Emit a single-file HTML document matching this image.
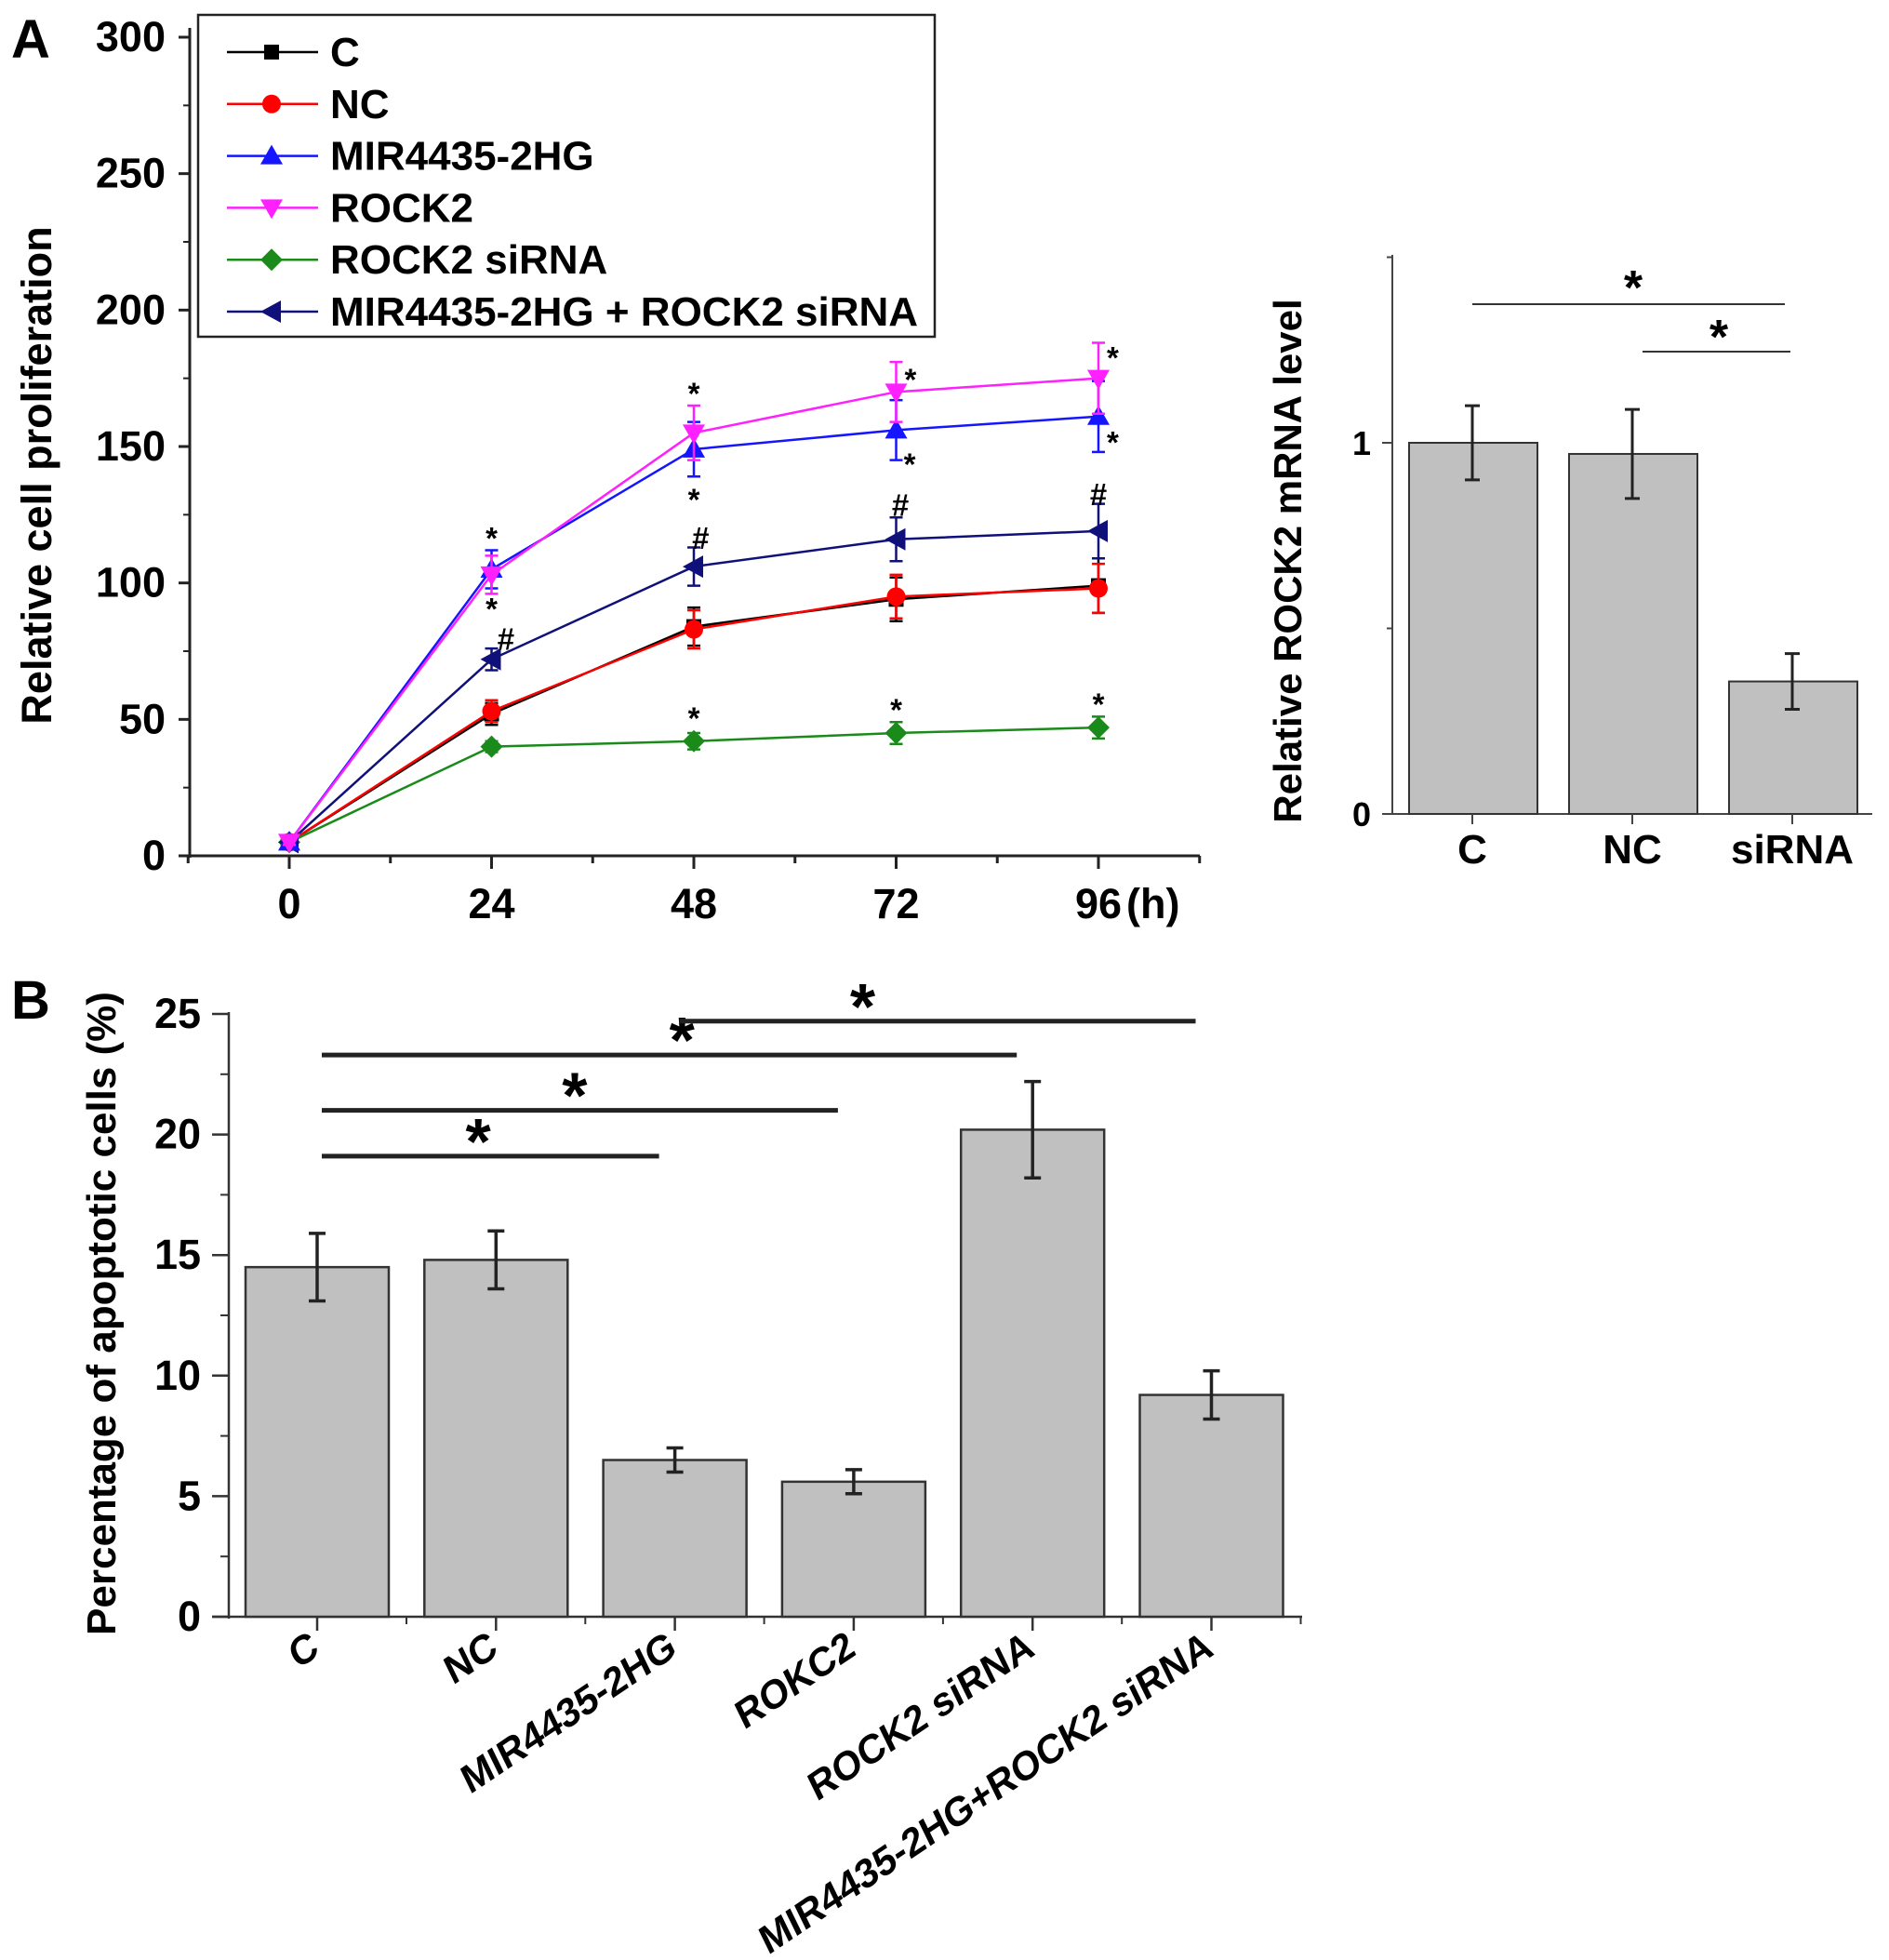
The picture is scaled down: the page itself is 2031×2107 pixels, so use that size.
<!DOCTYPE html>
<html><head><meta charset="utf-8">
<style>
html,body{margin:0;padding:0;background:#fff;}
svg{display:block;font-family:"Liberation Sans",Arial,sans-serif;font-weight:bold;}
</style></head>
<body>
<svg id="fig" width="2031" height="2107" viewBox="0 0 2031 2107" xmlns="http://www.w3.org/2000/svg">
<rect width="2031" height="2107" fill="#fff"/>
<text x="12" y="62" font-size="58" fill="#000">A</text>
<text x="12" y="1095" font-size="58" fill="#000">B</text>
<g id="gA"></g>
<g id="gR"></g>
<g id="gB"></g>
</svg>
<script>
// ---------- Panel A data ----------
const hours = [0, 24, 48, 72, 96];
const seriesNames = ["C", "NC", "MIR4435-2HG", "ROCK2", "ROCK2 siRNA", "MIR4435-2HG + ROCK2 siRNA"];
const valC = [5, 52, 84, 94, 99];
const valNC = [5, 53, 83, 95, 98];
const valMIR = [5, 105, 149, 156, 161];
const valROCK2 = [5, 103, 155, 170, 175];
const valSi = [5, 40, 42, 45, 47];
const valCombo = [5, 72, 106, 116, 119];
const errC = [1, 4, 7, 8, 10];
const errNC = [1, 4, 7, 8, 9];
const errMIR = [1, 7, 10, 11, 13];
const errROCK2 = [1, 7, 10, 11, 13];
const errSi = [1, 2, 3, 4, 4];
const errCombo = [1, 4, 7, 8, 10];
const yTicksA = [0, 50, 100, 150, 200, 250, 300];
const annHour = [24, 24, 25.7, 48, 48, 48.8, 48, 73.7, 73.6, 72.5, 72, 97.7, 97.7, 96, 96];
const annVal = [117, 91, 80, 170, 131, 117, 51, 175, 144, 129, 54, 183, 152, 133, 56];
const annText = ["*", "*", "#", "*", "*", "#", "*", "*", "*", "#", "*", "*", "*", "#", "*"];
// ---------- Right chart data ----------
const mrnaCats = ["C", "NC", "siRNA"];
const mrnaVals = [1.0, 0.97, 0.357];
const mrnaErr = [0.1, 0.12, 0.075];
// ---------- Panel B data ----------
const apoCats = ["C", "NC", "MIR4435-2HG", "ROKC2", "ROCK2 siRNA", "MIR4435-2HG+ROCK2 siRNA"];
const apoVals = [14.5, 14.8, 6.5, 5.6, 20.2, 9.2];
const apoErr = [1.4, 1.2, 0.5, 0.5, 2.0, 1.0];
const yTicksB = [0, 5, 10, 15, 20, 25];
const sigFrom = [0, 0, 0, 2];
const sigTo = [2, 3, 4, 5];
const sigLevel = [19.1, 21.0, 23.3, 24.7];
const sigStarAt = [0.9, 1.44, 2.04, 3.05];

const NS = "http://www.w3.org/2000/svg";
function mk(parent, tag, attrs, txt) {
  const e = document.createElementNS(NS, tag);
  for (const k in attrs) e.setAttribute(k, attrs[k]);
  if (txt !== undefined) e.textContent = txt;
  parent.appendChild(e);
  return e;
}

// ================= Panel A =================
const gA = document.getElementById('gA');
const xA = h => 311 + (h / 24) * 217.5;
const yA = v => 920 - v * (880 / 300);
let el;
el = mk(gA, 'line', {x1: 204, y1: 920, x2: 1290, y2: 920, stroke: '#222', 'stroke-width': 3});


el = mk(gA, 'line', {x1: 204, y1: 30, x2: 204, y2: 922, stroke: '#222', 'stroke-width': 3});


yTicksA.forEach((t, i) => {
  el = mk(gA, 'line', {x1: 192, y1: yA(t), x2: 204, y2: yA(t), stroke: '#222', 'stroke-width': 3});
  
  
  if (i < yTicksA.length - 1) {
    el = mk(gA, 'line', {x1: 197, y1: yA(t + 25), x2: 204, y2: yA(t + 25), stroke: '#222', 'stroke-width': 2});
    
    
  }
  el = mk(gA, 'text', {x: 178, y: yA(t) + 15, 'font-size': 45, 'text-anchor': 'end'}, t);
  
  
});
for (let h = -12; h <= 108; h += 12) {
  const major = hours.includes(h);
  el = mk(gA, 'line', {x1: xA(h), y1: 920, x2: xA(h), y2: major ? 934 : 928, stroke: '#222', 'stroke-width': 3});
  
  
}
hours.forEach(h => {
  el = mk(gA, 'text', {x: xA(h), y: 987, 'font-size': 45, 'text-anchor': 'middle'}, h);
  
  
});
el = mk(gA, 'text', {x: xA(96) + 30, y: 987, 'font-size': 45, 'text-anchor': 'start'}, '(h)');


el = mk(gA, 'text', {x: 0, y: 0, 'font-size': 45, 'text-anchor': 'middle', transform: 'translate(55,511) rotate(-90)'}, 'Relative cell proliferation');



function marker(g, type, cx, cy, color) {
  let m;
  if (type === 'square') m = mk(g, 'rect', {x: cx - 8, y: cy - 8, width: 16, height: 16, fill: color});
  else if (type === 'circle') m = mk(g, 'circle', {cx: cx, cy: cy, r: 10, fill: color});
  else if (type === 'up') m = mk(g, 'polygon', {points: `${cx},${cy - 12} ${cx - 12},${cy + 9} ${cx + 12},${cy + 9}`, fill: color});
  else if (type === 'down') m = mk(g, 'polygon', {points: `${cx},${cy + 12} ${cx - 12},${cy - 9} ${cx + 12},${cy - 9}`, fill: color});
  else if (type === 'diamond') m = mk(g, 'polygon', {points: `${cx},${cy - 12} ${cx + 12},${cy} ${cx},${cy + 12} ${cx - 12},${cy}`, fill: color});
  else m = mk(g, 'polygon', {points: `${cx - 12},${cy} ${cx + 10},${cy - 12} ${cx + 10},${cy + 12}`, fill: color});
  return m;
}
const series = [
  {vals: valC, errs: errC, color: '#000', type: 'square'},
  {vals: valNC, errs: errNC, color: '#f00', type: 'circle'},
  {vals: valSi, errs: errSi, color: '#1a8a1a', type: 'diamond'},
  {vals: valCombo, errs: errCombo, color: '#10107a', type: 'left'},
  {vals: valMIR, errs: errMIR, color: '#1515ff', type: 'up'},
  {vals: valROCK2, errs: errROCK2, color: '#ff20ff', type: 'down'}
];
series.forEach(s => {
  const g = mk(gA, 'g', {});
  
  
  const pts = hours.map((h, i) => `${xA(h)},${yA(s.vals[i])}`).join(' ');
  el = mk(g, 'polyline', {points: pts, fill: 'none', stroke: s.color, 'stroke-width': 2.5});
  
  
  hours.forEach((h, i) => {
    const x = xA(h), y1 = yA(s.vals[i] + s.errs[i]), y2 = yA(s.vals[i] - s.errs[i]);
    el = mk(g, 'path', {d: `M${x},${y1}V${y2}M${x - 7},${y1}H${x + 7}M${x - 7},${y2}H${x + 7}`, stroke: s.color, 'stroke-width': 2.5, fill: 'none'});
    
    
    el = marker(g, s.type, x, yA(s.vals[i]), s.color);
    
    
  });
});
annText.forEach((t, i) => {
  el = mk(gA, 'text', {x: xA(annHour[i]), y: yA(annVal[i]) + 13, 'font-size': 33, 'text-anchor': 'middle'}, t);
  
  
});
// legend
const leg = mk(gA, 'g', {});


el = mk(leg, 'rect', {x: 213, y: 16, width: 792, height: 346, fill: '#fff', stroke: '#222', 'stroke-width': 2.5});


const legColors = ['#000', '#f00', '#1515ff', '#ff20ff', '#1a8a1a', '#10107a'];
const legTypes = ['square', 'circle', 'up', 'down', 'diamond', 'left'];
seriesNames.forEach((n, i) => {
  const y = 56 + i * 55.8;
  el = mk(leg, 'line', {x1: 244, y1: y, x2: 342, y2: y, stroke: legColors[i], 'stroke-width': 2.5});
  
  
  el = marker(leg, legTypes[i], 292, y, legColors[i]);
  
  
  el = mk(leg, 'text', {x: 355, y: y + 15, 'font-size': 44}, n);
  
  
});

// ================= Right chart =================
const gR = document.getElementById('gR');
const xR = i => 1583 + i * 172;
const yR = v => 875 - v * 399;
el = mk(gR, 'line', {x1: 1497, y1: 274, x2: 1497, y2: 876, stroke: '#444', 'stroke-width': 2});


el = mk(gR, 'line', {x1: 1486, y1: 875, x2: 2013, y2: 875, stroke: '#444', 'stroke-width': 2});


[0, 0.5, 1, 1.5].forEach(t => {
  el = mk(gR, 'line', {x1: t % 1 === 0 ? 1486 : 1491, y1: yR(t), x2: 1497, y2: yR(t), stroke: '#444', 'stroke-width': 2});
  
  
});
[0, 1].forEach(t => {
  el = mk(gR, 'text', {x: 1474, y: yR(t) + 13, 'font-size': 36, 'text-anchor': 'end'}, t);
  
  
});
el = mk(gR, 'text', {x: 0, y: 0, 'font-size': 42, 'text-anchor': 'middle', transform: 'translate(1399,603) rotate(-90)'}, 'Relative ROCK2 mRNA level');


mrnaCats.forEach((c, i) => {
  const x = xR(i);
  el = mk(gR, 'rect', {x: x - 68, y: yR(mrnaVals[i]), width: 138, height: yR(0) - yR(mrnaVals[i]), fill: '#c0c0c0', stroke: '#333', 'stroke-width': 2});
  
  
  const y1 = yR(mrnaVals[i] + mrnaErr[i]), y2 = yR(mrnaVals[i] - mrnaErr[i]);
  el = mk(gR, 'path', {d: `M${x},${y1}V${y2}M${x - 8},${y1}H${x + 8}M${x - 8},${y2}H${x + 8}`, stroke: '#222', 'stroke-width': 3, fill: 'none'});
  
  
  el = mk(gR, 'line', {x1: x, y1: 875, x2: x, y2: 886, stroke: '#444', 'stroke-width': 2});
  
  
  el = mk(gR, 'text', {x: x, y: 928, 'font-size': 44, 'text-anchor': 'middle'}, c);
  
  
});
el = mk(gR, 'line', {x1: 1583, y1: 327, x2: 1919, y2: 327, stroke: '#333', 'stroke-width': 2});


el = mk(gR, 'text', {x: 1756, y: 327, 'font-size': 52, 'text-anchor': 'middle'}, '*');


el = mk(gR, 'line', {x1: 1766, y1: 378, x2: 1925, y2: 378, stroke: '#333', 'stroke-width': 2});


el = mk(gR, 'text', {x: 1848, y: 380, 'font-size': 52, 'text-anchor': 'middle'}, '*');



// ================= Panel B =================
const gB = document.getElementById('gB');
const xB = i => 341 + i * 192.3;
const yB = v => 1738 - v * (648 / 25);
el = mk(gB, 'line', {x1: 246, y1: 1088, x2: 246, y2: 1740, stroke: '#333', 'stroke-width': 2.5});


el = mk(gB, 'line', {x1: 228, y1: 1738, x2: 1400, y2: 1738, stroke: '#333', 'stroke-width': 2.5});


yTicksB.forEach((t, i) => {
  el = mk(gB, 'line', {x1: 228, y1: yB(t), x2: 246, y2: yB(t), stroke: '#333', 'stroke-width': 2.5});
  
  
  if (i < yTicksB.length - 1) {
    el = mk(gB, 'line', {x1: 237, y1: yB(t + 2.5), x2: 246, y2: yB(t + 2.5), stroke: '#333', 'stroke-width': 2});
    
    
  }
  el = mk(gB, 'text', {x: 216, y: yB(t) + 15, 'font-size': 45, 'text-anchor': 'end'}, t);
  
  
});
el = mk(gB, 'text', {x: 0, y: 0, 'font-size': 44, 'text-anchor': 'middle', transform: 'translate(124,1412) rotate(-90)'}, 'Percentage of apoptotic cells (%)');


apoCats.forEach((c, i) => {
  const x = xB(i);
  el = mk(gB, 'rect', {x: x - 77, y: yB(apoVals[i]), width: 154, height: yB(0) - yB(apoVals[i]), fill: '#c0c0c0', stroke: '#333', 'stroke-width': 2.5});
  
  
  const y1 = yB(apoVals[i] + apoErr[i]), y2 = yB(apoVals[i] - apoErr[i]);
  el = mk(gB, 'path', {d: `M${x},${y1}V${y2}M${x - 9},${y1}H${x + 9}M${x - 9},${y2}H${x + 9}`, stroke: '#222', 'stroke-width': 3.5, fill: 'none'});
  
  
  el = mk(gB, 'line', {x1: x, y1: 1738, x2: x, y2: 1753, stroke: '#333', 'stroke-width': 2.5});
  
  
  el = mk(gB, 'line', {x1: x + 96, y1: 1738, x2: x + 96, y2: 1746, stroke: '#333', 'stroke-width': 2});
  
  
  el = mk(gB, 'text', {x: 0, y: 0, 'font-size': 42, 'text-anchor': 'end', transform: `translate(${x + 4},1778) rotate(-34) skewX(-8)`}, c);
  
  
});
sigLevel.forEach((lv, i) => {
  const x1 = xB(sigFrom[i]) + 5, x2 = xB(sigTo[i]) - 17;
  el = mk(gB, 'line', {x1: x1, y1: yB(lv), x2: x2, y2: yB(lv), stroke: '#222', 'stroke-width': 5});
  
  
  el = mk(gB, 'text', {x: xB(sigStarAt[i]), y: yB(lv) + 8, 'font-size': 70, 'text-anchor': 'middle'}, '*');
  
  
});
</script>
</body></html>
